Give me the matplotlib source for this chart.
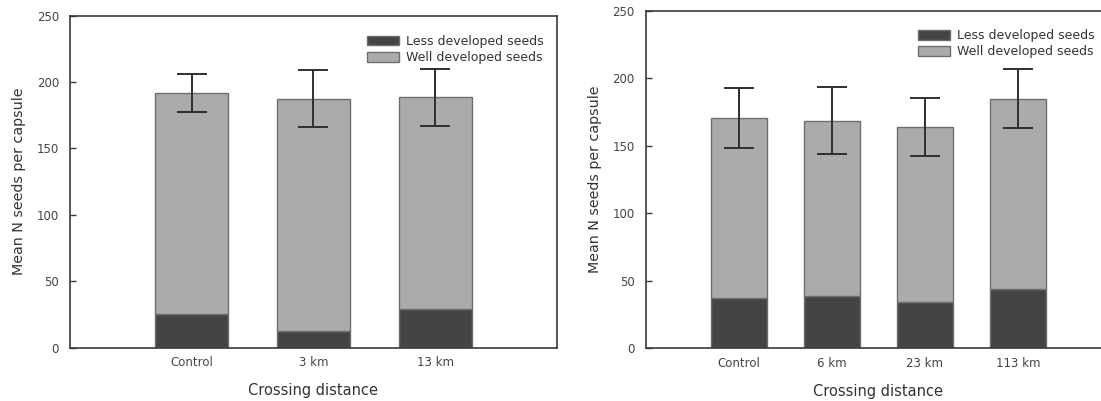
import matplotlib
matplotlib.use("Agg")
import matplotlib.pyplot as plt
import numpy as np
from matplotlib.patches import Patch

# left panel: crossing distances, first experiment
left_labels = ["Control", "3 km", "13 km"]
left_less = [25.0, 12.5, 29.1]
left_total = [191.9, 187.6, 188.6]
left_err = [14.5, 21.6, 21.5]

# right panel: crossing distances, second experiment
right_labels = ["Control", "6 km", "23 km", "113 km"]
right_less = [37.3, 38.5, 34.6, 44.2]
right_total = [170.8, 168.6, 163.9, 184.8]
right_err = [22.2, 25.0, 21.6, 22.0]

series_names = ["Less developed seeds", "Well developed seeds"]

dark = "#444444"
light = "#ababab"
edge = "#6e6e6e"
spine_col = "#3a3a3a"
text_col = "#444444"

plt.rcParams["font.family"] = "DejaVu Sans"

fig = plt.figure(figsize=(11.01, 4.01), dpi=100)


def draw_panel(ax, labels, less, total, err, xmax, leg_x, leg_y, ylab_x):
    x = np.arange(len(labels))
    less = np.array(less)
    well = np.array(total) - less
    width = 0.6

    ax.bar(x, less, width, color=dark, edgecolor=edge, linewidth=1.0, zorder=2)
    ax.bar(x, well, width, bottom=less, color=light, edgecolor=edge, linewidth=1.0, zorder=2)
    ax.errorbar(x, total, yerr=err, fmt="none", ecolor="#2f2f2f", elinewidth=1.4,
                capsize=11, capthick=1.4, zorder=3)

    ax.set_xlim(-1, xmax)
    ax.set_ylim(0, 250)
    ax.set_yticks([0, 50, 100, 150, 200, 250])
    ax.set_xticks(x, labels)
    ax.tick_params(axis="both", direction="in", length=4, width=1.0, color=spine_col,
                   labelsize=8.5, labelcolor=text_col)
    ax.tick_params(axis="y", pad=8)
    ax.tick_params(axis="x", pad=6)
    for s in ax.spines.values():
        s.set_color(spine_col)
        s.set_linewidth(1.2)

    ax.set_ylabel("Mean N seeds per capsule", fontsize=10.3, color="#333333")
    ax.yaxis.set_label_coords(ylab_x, 0.5)
    ax.set_xlabel("Crossing distance", fontsize=10.5, color="#333333", labelpad=10)

    handles = [Patch(facecolor=dark, edgecolor=edge), Patch(facecolor=light, edgecolor=edge)]
    ax.legend(handles, series_names, loc="upper left", bbox_to_anchor=(leg_x, leg_y),
              frameon=False, fontsize=9, handlelength=2.55, handleheight=0.8,
              handletextpad=0.6, labelspacing=0.25, borderpad=0, borderaxespad=0,
              labelcolor="#333333")


ax1 = fig.add_axes([0.0636, 0.1334, 0.442, 0.8274])
draw_panel(ax1, left_labels, left_less, left_total, left_err, 3, 0.6096, 0.942, -0.09)

ax2 = fig.add_axes([0.5867, 0.1314, 0.4223, 0.8419])
draw_panel(ax2, right_labels, right_less, right_total, right_err, 4, 0.5843, 0.945, -0.095)

fig.savefig("out.png", dpi=100)
